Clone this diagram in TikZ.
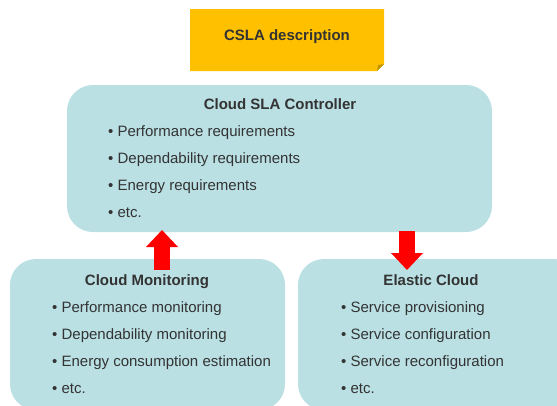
\documentclass[tikz,border=0pt]{standalone}
\usepackage{fontspec}
\setmainfont{Liberation Sans}
\usetikzlibrary{arrows.meta}
\definecolor{boxfill}{RGB}{186,224,228}
\definecolor{cslafill}{RGB}{255,192,0}
\definecolor{foldfill}{RGB}{196,148,0}
\definecolor{txt}{RGB}{51,51,51}
\definecolor{arrowred}{RGB}{255,0,0}
\tikzset{
  panel/.style={fill=boxfill, draw=none, rounded corners=26pt},
  title/.style={font=\fontsize{15}{17}\selectfont\bfseries, text=txt, anchor=base, inner sep=0pt},
  item/.style={font=\fontsize{15}{17}\selectfont, text=txt, anchor=base west, inner sep=0pt},
  flow/.style={draw=arrowred, line width=16pt, -{Triangle[width=31pt,length=17pt]}}
}
\begin{document}
\begin{tikzpicture}[x=1pt,y=-1pt]
\useasboundingbox (0,0) rectangle (557,405);
\clip (0,0) rectangle (557,405);
\fill[white] (0,0) rectangle (557,405);
% CSLA description
\fill[cslafill] (190,9) -- (384,9) -- (384,64) -- (377,71) -- (190,71) -- cycle;
\fill[foldfill] (384,64) -- (377,71) -- (378,65) -- cycle;
\node[title, anchor=center] (csla) at (287,37) {CSLA description};
% panels
\fill[panel] (67,85) rectangle (492,232);
\fill[panel] (10,259) rectangle (285,410);
\fill[panel] (298,259) rectangle (580,410);
% Cloud SLA Controller
\node[title] (ctrlt) at (280,109) {Cloud SLA Controller};
\node[item] (c1) at (108,136) {\textbullet\ Performance requirements};
\node[item] (c2) at (108,163) {\textbullet\ Dependability requirements};
\node[item] (c3) at (108,190) {\textbullet\ Energy requirements};
\node[item] (c4) at (108,217) {\textbullet\ etc.};
% Cloud Monitoring
\node[title] (mont) at (147,285) {Cloud Monitoring};
\node[item] (m1) at (52,312) {\textbullet\ Performance monitoring};
\node[item] (m2) at (52,339) {\textbullet\ Dependability monitoring};
\node[item] (m3) at (52,366) {\textbullet\ Energy consumption estimation};
\node[item] (m4) at (52,393) {\textbullet\ etc.};
% Elastic Cloud
\node[title] (elat) at (431,285) {Elastic Cloud};
\node[item] (e1) at (341,312) {\textbullet\ Service provisioning};
\node[item] (e2) at (341,339) {\textbullet\ Service configuration};
\node[item] (e3) at (341,366) {\textbullet\ Service reconfiguration};
\node[item] (e4) at (341,393) {\textbullet\ etc.};
% arrows
\coordinate (upstart) at (162,270);
\coordinate (upend) at (162,230);
\coordinate (dnstart) at (407,231);
\coordinate (dnend) at (407,270);
\draw[flow] (upstart) -- (upend);
\draw[flow] (dnstart) -- (dnend);
\end{tikzpicture}
\end{document}
